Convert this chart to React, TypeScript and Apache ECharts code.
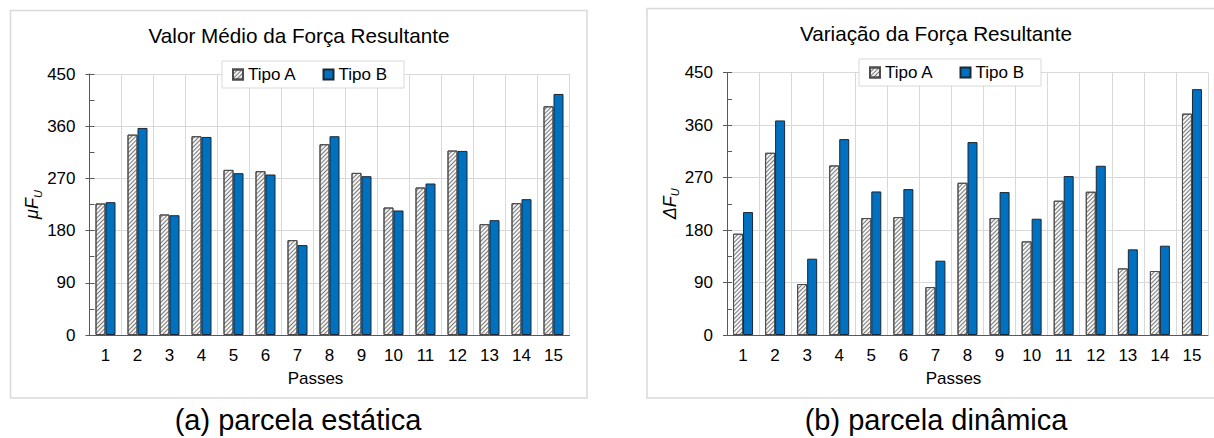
import React, { useEffect, useRef } from 'react';
import * as echarts from 'echarts';

const categories = ['1', '2', '3', '4', '5', '6', '7', '8', '9', '10', '11', '12', '13', '14', '15'];
const seriesNames = ['Tipo A', 'Tipo B'];

// (a) parcela estática — μF_U
const staticA = [226.7, 345.5, 207.8, 342.7, 284.7, 282.4, 163.6, 328.9, 279.5, 219.8, 254.3, 318.0, 191.1, 227.3, 394.3];
const staticB = [229.0, 357.0, 206.5, 341.5, 279.0, 276.7, 155.0, 342.7, 273.8, 214.7, 261.2, 317.4, 198.0, 234.2, 415.6];

// (b) parcela dinâmica — ΔF_U
const dynamicA = [173.6, 312.4, 87.4, 290.7, 200.5, 202.2, 82.2, 261.0, 200.5, 160.5, 230.2, 245.6, 114.2, 109.7, 379.5];
const dynamicB = [210.7, 367.8, 130.8, 335.8, 246.1, 250.1, 127.4, 330.7, 245.0, 199.3, 272.4, 290.1, 146.8, 153.1, 421.5];

const yMin = 0;
const yMax = 450;
const yStep = 90;

const chartTitles = ['Valor Médio da Força Resultante', 'Variação da Força Resultante'];
const captions = ['(a) parcela estática', '(b) parcela dinâmica'];
const xAxisName = 'Passes';

const FONT = '"Liberation Sans", Arial, Helvetica, sans-serif';
const BLUE = '#0070C0';
const GRID = '#d9d9d9';
const AXIS = '#595959';
const TEXT = '#000000';

export default function App() {
  const ref = useRef<HTMLDivElement>(null);

  useEffect(() => {
    document.body.style.margin = '0';
    if (!ref.current) return;
    const chart = echarts.init(ref.current, null, { renderer: 'svg' });

    const grids = [
      { left: 89.5, top: 74, width: 480, height: 261 },
      { left: 727, top: 72.5, width: 481, height: 262.5 },
    ];

    const yNames = ['{i|μF}{s|U}', '{i|ΔF}{s|U}'];

    const hatch = {
      symbol: 'rect',
      symbolSize: 1,
      color: 'rgba(80,80,80,0.75)',
      dashArrayX: [1, 0],
      dashArrayY: [1, 2],
      rotation: -Math.PI / 4,
    };

    const xAxes = grids.map((_, gi) => ({
      type: 'category',
      gridIndex: gi,
      data: categories,
      axisLine: { show: true, lineStyle: { color: AXIS, width: 1 } },
      axisTick: { show: false },
      axisLabel: { fontSize: 17, color: TEXT, fontFamily: FONT, margin: 12 },
      splitLine: { show: true, lineStyle: { color: GRID, width: 1 } },
      name: xAxisName,
      nameLocation: 'middle',
      nameGap: 35,
      nameTextStyle: { fontSize: 17, color: TEXT, fontFamily: FONT, padding: [0, 28, 0, 0] },
    }));

    const yAxesMain = grids.map((_, gi) => ({
      type: 'value',
      gridIndex: gi,
      min: yMin,
      max: yMax,
      interval: yStep,
      axisLine: { show: true, lineStyle: { color: AXIS, width: 1 } },
      axisTick: { show: true, inside: true, length: 5, lineStyle: { color: AXIS } },
      minorTick: { show: true, splitNumber: 2, length: 5, lineStyle: { color: AXIS } },
      axisLabel: { fontSize: 17, color: TEXT, fontFamily: FONT, margin: 14 },
      splitLine: { show: true, lineStyle: { color: GRID, width: 1 } },
      name: yNames[gi],
      nameLocation: 'middle',
      nameGap: 38,
      nameRotate: 90,
      nameTextStyle: {
        fontFamily: FONT,
        color: TEXT,
        rich: {
          i: { fontSize: 18, fontStyle: 'italic', fontFamily: FONT, color: TEXT, lineHeight: 22 },
          s: { fontSize: 11, fontStyle: 'italic', fontFamily: FONT, color: TEXT, verticalAlign: 'bottom', lineHeight: 14 },
        },
      },
    }));

    const yAxesTicks = grids.map((_, gi) => ({
      type: 'value',
      gridIndex: gi,
      position: 'left',
      min: yMin,
      max: yMax,
      interval: yStep,
      axisLine: { show: false },
      axisTick: { show: true, inside: false, length: 4, lineStyle: { color: AXIS } },
      axisLabel: { show: false },
      splitLine: { show: false },
    }));

    const dataSets = [
      [staticA, staticB],
      [dynamicA, dynamicB],
    ];

    const series: any[] = [];
    dataSets.forEach((pair, gi) => {
      series.push({
        type: 'bar',
        name: seriesNames[0],
        xAxisIndex: gi,
        yAxisIndex: gi,
        data: pair[0],
        barWidth: 10,
        barGap: '0%',
        itemStyle: { color: '#f4f4f4', borderColor: '#4d4d4d', borderWidth: 1, decal: hatch },
      });
      series.push({
        type: 'bar',
        name: seriesNames[1],
        xAxisIndex: gi,
        yAxisIndex: gi,
        data: pair[1],
        barWidth: 10,
        barGap: '0%',
        itemStyle: { color: BLUE, borderColor: '#1c2733', borderWidth: 1 },
      });
    });

    const legendPos = [
      { left: 222, top: 61 },
      { left: 859, top: 59 },
    ];
    const legends = legendPos.map((p) => ({
      data: seriesNames,
      left: p.left,
      top: p.top,
      orient: 'horizontal',
      icon: 'rect',
      itemWidth: 10,
      itemHeight: 10,
      itemGap: 26,
      backgroundColor: '#ffffff',
      borderColor: GRID,
      borderWidth: 1,
      padding: [5, 17, 5, 10],
      textStyle: { fontSize: 17, color: TEXT, fontFamily: FONT },
      selectedMode: false,
    }));

    const graphic: any[] = [
      { type: 'rect', silent: true, z: -1, shape: { x: 10.5, y: 10.5, width: 576.5, height: 387.5 }, style: { fill: 'none', stroke: GRID, lineWidth: 1.5 } },
      { type: 'rect', silent: true, z: -1, shape: { x: 647, y: 8.5, width: 600, height: 389.5 }, style: { fill: 'none', stroke: GRID, lineWidth: 1.5 } },
    ];
    const titleX = [299, 936];
    const titleY = [35, 33];
    chartTitles.forEach((t, i) => {
      graphic.push({
        type: 'text',
        x: titleX[i],
        y: titleY[i],
        style: {
          text: t,
          fontSize: 20.7,
          fontFamily: FONT,
          fill: TEXT,
          textAlign: 'center',
          textVerticalAlign: 'middle',
          align: 'center',
          verticalAlign: 'middle',
        },
      });
    });
    const capX = [298, 936];
    captions.forEach((t, i) => {
      graphic.push({
        type: 'text',
        x: capX[i],
        y: 420,
        style: {
          text: t,
          fontSize: 29,
          fontFamily: FONT,
          fill: TEXT,
          textAlign: 'center',
          textVerticalAlign: 'middle',
          align: 'center',
          verticalAlign: 'middle',
        },
      });
    });

    chart.setOption({
      animation: false,
      backgroundColor: '#ffffff',
      textStyle: { fontFamily: FONT },
      grid: grids,
      xAxis: xAxes,
      yAxis: [...yAxesMain, ...yAxesTicks],
      legend: legends,
      series,
      graphic,
    });

    return () => {
      chart.dispose();
    };
  }, []);

  return <div ref={ref} style={{ width: 1214, height: 438 }} />;
}
